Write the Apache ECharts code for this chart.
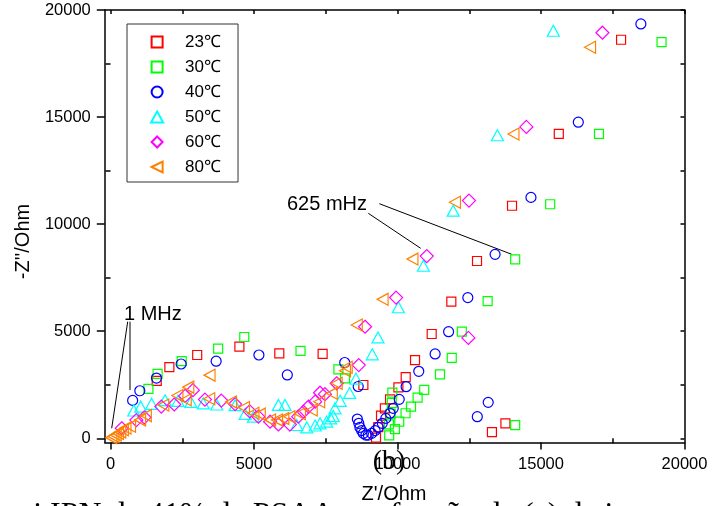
<!DOCTYPE html>
<html>
<head>
<meta charset="utf-8">
<script src="https://cdn.jsdelivr.net/npm/echarts@6/dist/echarts.min.js"></script>
<style>
  html, body { margin: 0; padding: 0; background: #fff; }
  #chart { width: 723px; height: 506px; }
</style>
</head>
<body>
<div id="chart"></div>
<script>
// Nyquist impedance spectra (Z' vs -Z'') measured at six temperatures
const temps = ['23℃', '30℃', '40℃', '50℃', '60℃', '80℃'];

const s23 = [[1610,2680],[2050,3320],[3020,3890],[4490,4280],[5880,3970],[7390,3940],[8810,2490],[9250,30],[9330,520],[9425,1055],[9560,1400],[9740,1820],[10030,2380],[10285,2860],[10610,3650],[11190,4870],[11875,6380],[12770,8280],[13990,10860],[15620,14220],[17790,18610],[13290,290],[13760,700]];
const s30 = [[1320,2310],[1640,3010],[2480,3600],[3750,4190],[4660,4730],[6620,4080],[7940,3220],[8170,2800],[9820,2130],[9800,1650],[9760,1150],[9700,650],[9710,140],[9910,430],[10060,780],[10280,1170],[10470,1480],[10700,1900],[10930,2260],[11480,2990],[11890,3760],[12240,4980],[13140,6410],[14100,8360],[15320,10930],[17020,14220],[19200,18500],[14100,620]];
const s40 = [[770,1770],[1020,2220],[1600,2815],[2460,3470],[3680,3600],[5170,3890],[6160,2960],[8160,3540],[8630,2420],[8600,900],[8650,700],[8690,510],[8750,360],[8810,230],[8900,150],[8980,150],[9100,230],[9220,360],[9330,510],[9470,700],[9590,930],[9740,1170],[9850,1400],[10060,1820],[10300,2410],[10740,3130],[11310,3940],[11780,4980],[12450,6570],[13400,8590],[14650,11250],[16300,14760],[18480,19350],[13160,1680],[12780,1010]];
const s50 = [[810,1300],[1050,1480],[1430,1610],[1900,1780],[2350,1750],[2800,1700],[3230,1630],[3700,1580],[4340,1550],[4690,1140],[4980,1010],[5850,1560],[6080,1560],[6490,620],[6840,510],[7130,600],[7300,700],[7530,780],[7670,930],[7760,1040],[7820,1400],[8000,1750],[8330,2120],[8550,2790],[9120,3920],[9320,4710],[10030,6120],[10900,8060],[11940,10630],[13480,14150],[15430,19030]];
const s60 = [[390,470],[900,850],[1180,980],[1770,1480],[2220,1580],[2600,1980],[2870,2250],[3290,1810],[3860,1760],[4340,1600],[4850,1260],[5150,1010],[5560,775],[5850,650],[6250,640],[6540,1010],[6720,1240],[6900,1480],[7130,1710],[7300,2130],[7470,2060],[7880,2570],[8650,3420],[8870,5210],[9950,6570],[11020,8510],[12490,11100],[14490,14540],[17140,18940],[12470,4690]];
const s80 = [[30,30],[100,90],[180,160],[260,230],[340,300],[430,400],[520,480],[680,560],[1030,860],[1230,1060],[1840,1555],[2330,2000],[2710,2390],[2620,1800],[3450,2950],[3440,1850],[4200,1700],[4650,1440],[4980,1170],[5200,1130],[5560,860],[5800,860],[6020,930],[6230,1010],[6600,1150],[7010,1320],[7270,1710],[7710,2100],[7880,2570],[8170,3150],[8230,3320],[8580,5290],[9480,6490],[10520,8370],[12000,11020],[14040,14210],[16710,18260]];

const majorTicks = [0, 5000, 10000, 15000, 20000];
const minorTicks = [2500, 7500, 12500, 17500];
const allTicks = [0, 2500, 5000, 7500, 10000, 12500, 15000, 17500, 20000];

const seriesData = [s23, s30, s40, s50, s60, s80];
const colors = ['#FF0000', '#00FF00', '#0000FF', '#00FFFF', '#FF00FF', '#FF8000'];
// marker outlines; path symbols keep their aspect ratio in the legend too
const symbols = [
  'path://M0,0L10,0L10,10L0,10Z',
  'path://M0,0L10,0L10,10L0,10Z',
  'circle',
  'path://M5,0L10,9L0,9Z',
  'path://M5,0L10,5L5,10L0,5Z',
  'path://M0,5L10,0L10,10Z'
];
const sizes = [[9, 9], [9, 9], [10, 10], [12, 11], [13, 13], [11, 12]];

const FONT = 'Liberation Sans, Arial, Helvetica, sans-serif';
const SERIF = 'Liberation Serif, Times New Roman, serif';
const axisLineStyle = { color: '#000', width: 1.5 };

function mainAxis(pos, isX) {
  return {
    type: 'value', position: pos, min: -200, max: 20000,
    axisLine: { show: true, onZero: false, lineStyle: axisLineStyle },
    axisTick: { show: true, customValues: majorTicks, length: isX ? 7 : 8, lineStyle: axisLineStyle },
    axisLabel: {
      show: true, customValues: majorTicks, color: '#000', fontSize: 16.5, fontFamily: FONT,
      margin: isX ? 13 : 14, formatter: v => String(v)
    },
    splitLine: { show: false }
  };
}
function minorAxis(pos) {
  return {
    type: 'value', position: pos, min: -200, max: 20000,
    axisLine: { show: false },
    axisTick: { show: true, customValues: minorTicks, length: 5, lineStyle: axisLineStyle },
    axisLabel: { show: false, customValues: minorTicks },
    splitLine: { show: false }
  };
}
function mirrorAxis(pos) {
  return {
    type: 'value', position: pos, min: -200, max: 20000,
    axisLine: { show: true, onZero: false, lineStyle: axisLineStyle },
    axisTick: { show: true, inside: true, customValues: allTicks, length: 4, lineStyle: axisLineStyle },
    axisLabel: { show: false, customValues: allTicks },
    splitLine: { show: false }
  };
}

const chart = echarts.init(document.getElementById('chart'), null, { renderer: 'canvas' });

chart.setOption({
  animation: false,
  backgroundColor: '#fff',
  grid: { left: 104.8, right: 38.5, top: 10, bottom: 63.4, containLabel: false },
  xAxis: [mainAxis('bottom', true), minorAxis('bottom'), mirrorAxis('top')],
  yAxis: [mainAxis('left', false), minorAxis('left'), mirrorAxis('right')],
  legend: {
    orient: 'vertical',
    left: 127, top: 24,
    padding: [9.5, 17, 6.5, 23],
    itemWidth: 46, itemHeight: 11, itemGap: 8,
    symbolKeepAspect: true,
    borderColor: '#333', borderWidth: 1,
    textStyle: { color: '#000', fontSize: 17, fontFamily: FONT, lineHeight: 17 },
    data: temps
  },
  series: temps.map((name, i) => ({
    name: name,
    type: 'scatter',
    xAxisIndex: 0, yAxisIndex: 0,
    data: seriesData[i],
    symbol: symbols[i],
    symbolSize: sizes[i],
    symbolKeepAspect: false,
    itemStyle: { color: 'rgba(0,0,0,0)', borderColor: colors[i], borderWidth: 1.2, opacity: 1 },
    emphasis: { disabled: true }
  })),
  graphic: [
    { type: 'text', x: 394, y: 494.5, style: { text: "Z'/Ohm", fill: '#000', font: '20px ' + FONT, align: 'center', verticalAlign: 'middle' } },
    { type: 'text', x: 23, y: 241.5, rotation: Math.PI / 2, style: { text: "-Z''/Ohm", fill: '#000', font: '20px ' + FONT, align: 'center', verticalAlign: 'middle' } },
    { type: 'text', x: 287, y: 204, style: { text: '625 mHz', fill: '#000', font: '20px ' + FONT, align: 'left', verticalAlign: 'middle' } },
    { type: 'text', x: 124, y: 314.5, style: { text: '1 MHz', fill: '#000', font: '20px ' + FONT, align: 'left', verticalAlign: 'middle' } },
    { type: 'line', shape: { x1: 379.3, y1: 203.7, x2: 511.7, y2: 254.3 }, style: { stroke: '#000', lineWidth: 1 } },
    { type: 'line', shape: { x1: 368.3, y1: 213.3, x2: 420.7, y2: 248.3 }, style: { stroke: '#000', lineWidth: 1 } },
    { type: 'line', shape: { x1: 127.7, y1: 321.7, x2: 111.7, y2: 428.3 }, style: { stroke: '#000', lineWidth: 1 } },
    { type: 'line', shape: { x1: 130, y1: 321.7, x2: 130, y2: 390 }, style: { stroke: '#000', lineWidth: 1 } },
    { type: 'text', x: 389, y: 462, style: { text: '(b)', fill: '#000', font: '28px ' + SERIF, align: 'center', verticalAlign: 'middle' } },
    { type: 'text', x: 19, y: 516, style: { text: 'ai IPN de 41% de PSAA em função de (a) de in', fill: '#000', font: '32px ' + SERIF, align: 'left', verticalAlign: 'middle' } }
  ]
});
</script>
</body>
</html>
